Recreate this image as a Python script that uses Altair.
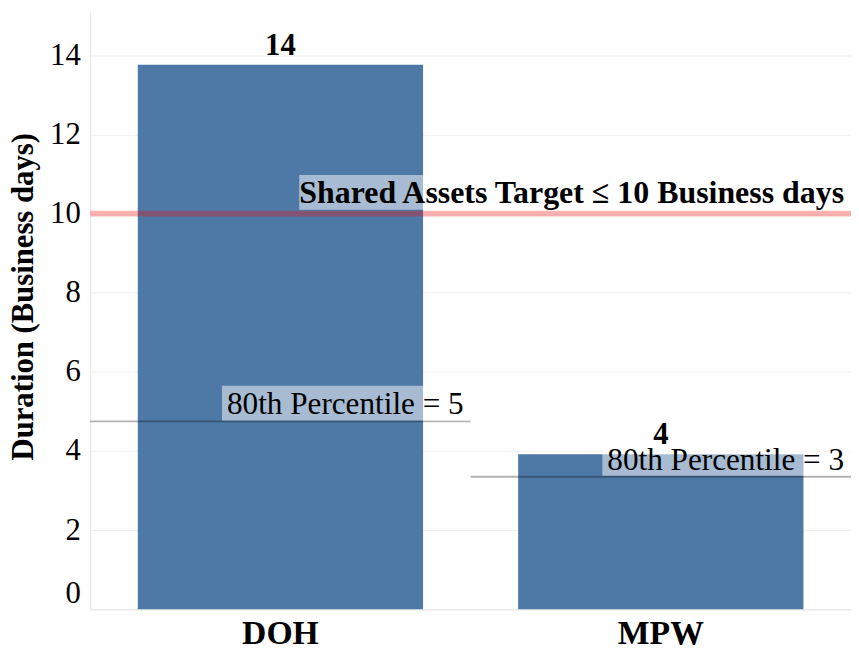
import altair as alt
import pandas as pd

categories = ["DOH", "MPW"]
durations = [13.76, 3.92]
duration_labels = ["14", "4"]
pct80_values = [4.75, 3.35]
pct80_labels = ["80th Percentile = 5", "80th Percentile = 3"]
target_value = [10]
target_label = ["Shared Assets Target \u2264 10 Business days"]

FONT = "Liberation Serif"

df = pd.DataFrame({
    "category": categories,
    "value": durations,
    "label": duration_labels,
    "pct": pct80_values,
    "pct_label": pct80_labels,
    "idx": list(range(len(categories))),
})
tdf = pd.DataFrame({"target": target_value, "tlabel": target_label})

yscale = alt.Scale(domain=[0, 15.12], nice=False)
yaxis = alt.Axis(
    title="Duration (Business days)", values=[0, 2, 4, 6, 8, 10, 12, 14],
    titleFont=FONT, titleFontSize=31, titleFontWeight="bold", titleColor="black",
    titlePadding=10, titleY=288, labelFont=FONT, labelFontSize=31,
    labelColor="black", labelPadding=10, labelFlush=True, ticks=False,
    domainColor="#e6e6e6", gridColor="#f0f0f0",
)
xaxis = alt.Axis(
    title=None, labelAngle=0, labelFont=FONT, labelFontSize=34,
    labelFontWeight="bold", labelColor="black", labelPadding=7,
    ticks=False, domainColor="#e6e6e6", grid=False,
)
xband = alt.Scale(paddingInner=0.25, paddingOuter=0.125)

base = alt.Chart(df)
bars = base.mark_bar(color="#4e79a7").encode(
    x=alt.X("category:N", scale=xband, axis=xaxis, sort=categories),
    y=alt.Y("value:Q", scale=yscale, axis=yaxis),
)
bar_text = base.mark_text(
    font=FONT, fontSize=31, fontWeight="bold", color="black",
    baseline="alphabetic", dy=-10,
).encode(
    x=alt.X("category:N", scale=xband, axis=None, sort=categories),
    y=alt.Y("value:Q", scale=yscale, axis=yaxis),
    text="label:N",
)

posscale = alt.Scale(domain=[0, 2], nice=False, zero=False)
ann = base.transform_calculate(x_start="datum.idx", x_end="datum.idx + 1")

pct_rule = ann.mark_rule(color="black", opacity=0.3, strokeWidth=2).encode(
    x=alt.X("x_start:Q", scale=posscale, axis=None),
    x2="x_end:Q",
    y=alt.Y("pct:Q", scale=yscale, axis=yaxis),
)
pct_box = ann.mark_rect(
    color="white", opacity=0.5, xOffset=-251, yOffset=-1, y2Offset=-36
).encode(
    x=alt.X("x_end:Q", scale=posscale, axis=None),
    x2="x_end:Q",
    y=alt.Y("pct:Q", scale=yscale, axis=yaxis),
    y2="pct:Q",
)
pct_text = ann.mark_text(
    font=FONT, fontSize=31.5, color="black", align="right",
    baseline="alphabetic", dx=-7, dy=-7,
).encode(
    x=alt.X("x_end:Q", scale=posscale, axis=None),
    y=alt.Y("pct:Q", scale=yscale, axis=yaxis),
    text="pct_label:N",
)

tbase = alt.Chart(tdf).transform_calculate(x_start="0", x_end="2")
target_rule = tbase.mark_rule(color="red", opacity=0.3, strokeWidth=6).encode(
    x=alt.X("x_start:Q", scale=posscale, axis=None),
    x2="x_end:Q",
    y=alt.Y("target:Q", scale=yscale, axis=yaxis),
)
target_box = tbase.mark_rect(
    color="white", opacity=0.5, xOffset=-557, yOffset=-4, y2Offset=-39
).encode(
    x=alt.X("x_end:Q", scale=posscale, axis=None),
    x2="x_end:Q",
    y=alt.Y("target:Q", scale=yscale, axis=yaxis),
    y2="target:Q",
)
target_text = tbase.mark_text(
    font=FONT, fontSize=32.2, fontWeight="bold", color="black", align="right",
    baseline="alphabetic", dx=-7, dy=-11,
).encode(
    x=alt.X("x_end:Q", scale=posscale, axis=None),
    y=alt.Y("target:Q", scale=yscale, axis=yaxis),
    text="tlabel:N",
)

chart = alt.layer(
    bars, pct_rule, target_rule, pct_box, target_box, bar_text, pct_text, target_text
).resolve_scale(x="independent").properties(
    width=768, height=604,
    autosize=alt.AutoSizeParams(type="none"),
    padding={"left": 83, "top": 0, "right": 0, "bottom": 37},
).configure_view(stroke=None)

chart.save("out.html", embed_options={"renderer": "svg", "actions": False})
